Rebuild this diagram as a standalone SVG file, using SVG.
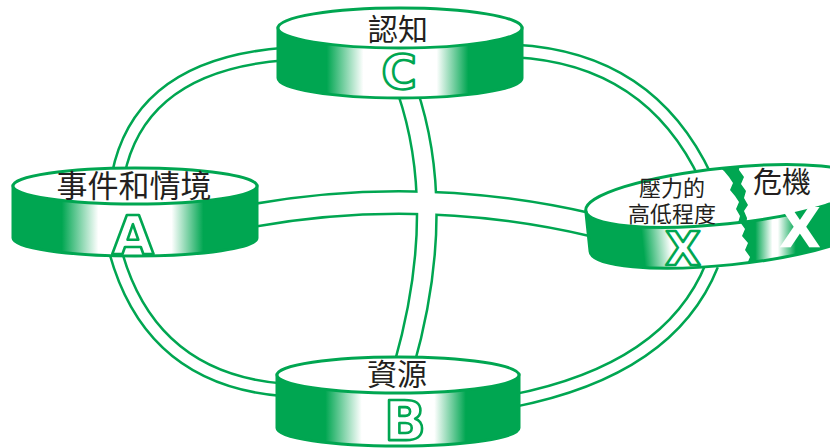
<svg xmlns="http://www.w3.org/2000/svg" width="830" height="448" viewBox="0 0 830 448">
<style>
.po{fill:none;stroke:#00a651;stroke-width:15}
.pi{fill:none;stroke:#fff;stroke-width:10}
.top{fill:#fff;stroke:#00a651;stroke-width:3}
.body{fill:url(#band);stroke:#00a651;stroke-width:3}
.edge{fill:none;stroke:#00a651;stroke-width:3}
.lbl{font-family:"Noto Sans CJK TC","Noto Sans CJK SC",sans-serif;fill:#231f20;text-anchor:middle}
.let{font-family:"DejaVu Sans",sans-serif;font-weight:bold;fill:#fff;stroke:#00a651;stroke-width:2.6;text-anchor:middle;stroke-linejoin:round}
</style>
<defs>
<linearGradient id="band" x1="0" y1="0" x2="1" y2="0">
<stop offset="0" stop-color="#00a651"/>
<stop offset="0.2" stop-color="#00a651"/>
<stop offset="0.35" stop-color="#fff"/>
<stop offset="0.65" stop-color="#fff"/>
<stop offset="0.78" stop-color="#00a651"/>
<stop offset="1" stop-color="#00a651"/>
</linearGradient>
<linearGradient id="gX" gradientUnits="userSpaceOnUse" x1="585" y1="0" x2="865" y2="0">
<stop offset="0" stop-color="#00a651"/>
<stop offset="0.19" stop-color="#00a651"/>
<stop offset="0.29" stop-color="#fff"/>
<stop offset="1" stop-color="#fff"/>
</linearGradient>
<linearGradient id="gXR" gradientUnits="userSpaceOnUse" x1="740" y1="0" x2="830" y2="0">
<stop offset="0" stop-color="#00a651"/>
<stop offset="0.17" stop-color="#00a651"/>
<stop offset="0.36" stop-color="#fff"/>
<stop offset="0.42" stop-color="#fff"/>
<stop offset="0.62" stop-color="#00a651"/>
<stop offset="1" stop-color="#00a651"/>
</linearGradient>
<clipPath id="xbody"><path transform="rotate(-6 725 196)" d="M585 196 L585 237 A140 28 0 0 0 865 237 L865 196 Z"/></clipPath>
<clipPath id="xtop"><ellipse transform="rotate(-6 725 196)" cx="725" cy="196" rx="140" ry="28"/></clipPath>
</defs>

<g id="connectors">
<path class="po" d="M285 54 Q140 65 118 175"/>
<path class="po" d="M515 51 Q650 58 706 178"/>
<path class="po" d="M115 250 Q150 380 285 390"/>
<path class="po" d="M712 265 Q670 370 512 401"/>
<path class="po" style="stroke-width:25" d="M250 216 Q420 185 592 225"/>
<path class="po" style="stroke-width:22" d="M407 90 Q448 210 404 365"/>
<path class="pi" d="M285 54 Q140 65 118 175"/>
<path class="pi" d="M515 51 Q650 58 706 178"/>
<path class="pi" d="M115 250 Q150 380 285 390"/>
<path class="pi" d="M712 265 Q670 370 512 401"/>
<path class="pi" style="stroke-width:20" d="M250 216 Q420 185 592 225"/>
<path class="pi" style="stroke-width:17" d="M407 90 Q448 210 404 365"/>
</g>

<g id="node-C">
<path class="body" d="M278 28 L278 78 A122 20 0 0 0 522 78 L522 28 Z"/>
<ellipse class="top" cx="400" cy="28" rx="122" ry="20"/>
<text class="lbl" x="398" y="40" font-size="30">認知</text>
<text class="let" x="399" y="89" font-size="48">C</text>
</g>

<g id="node-A">
<path class="body" d="M13 186 L13 238 A122 18 0 0 0 257 238 L257 186 Z"/>
<ellipse class="top" cx="135" cy="186" rx="122" ry="18"/>
<text class="lbl" x="134" y="197" font-size="31">事件和情境</text>
<text class="let" x="133" y="254" font-size="54">A</text>
</g>

<g id="node-B">
<path class="body" d="M277 375 L277 428 A121 18 0 0 0 519 428 L519 375 Z"/>
<ellipse class="top" cx="398" cy="375" rx="121" ry="18"/>
<text class="lbl" x="397" y="385" font-size="30">資源</text>
<text class="let" x="405" y="440" font-size="55">B</text>
</g>

<g id="node-X">
<path transform="rotate(-6 725 196)" fill="url(#gX)" d="M585 196 L585 237 A140 28 0 0 0 865 237 L865 196 Z"/>
<path clip-path="url(#xbody)" fill="url(#gXR)" d="M737 150 L744 215 L740 222 L745 229 L742 236 L748 243 L745 250 L750 257 L747 264 L751 272 L751 300 L840 300 L840 150 Z"/>
<ellipse transform="rotate(-6 725 196)" fill="#fff" cx="725" cy="196" rx="140" ry="28"/>
<path clip-path="url(#xtop)" fill="#00a651" d="M716 150 L718 166 L724 171 L729 177 L733 183 L730 190 L735 196 L739 202 L736 209 L740 216 L738 223 L742 232 L746 228 L747 218 L744 211 L748 205 L744 198 L746 191 L741 184 L744 177 L739 170 L741 150 Z"/>
<path transform="rotate(-6 725 196)" class="edge" d="M585 196 L585 237 A140 28 0 0 0 865 237 L865 196"/>
<ellipse transform="rotate(-6 725 196)" class="edge" cx="725" cy="196" rx="140" ry="28"/>
<text class="lbl" x="672" y="196" font-size="22">壓力的</text>
<text class="lbl" x="672" y="222" font-size="22">高低程度</text>
<text class="lbl" x="782" y="193" font-size="29">危機</text>
<text class="let" x="683" y="265" font-size="46">X</text>
<text class="let" x="800" y="247" font-size="55" style="stroke:none">X</text>
</g>
</svg>
